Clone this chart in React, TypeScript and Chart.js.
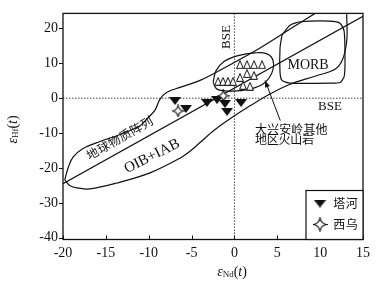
import React, { useEffect, useRef } from 'react';
import { Chart, registerables } from 'chart.js';

Chart.register(...registerables);

// ---------- data ----------
const xTicks = [-20, -15, -10, -5, 0, 5, 10, 15];
const yTicks = [-40, -30, -20, -10, 0, 10, 20];

// 塔河 (filled down triangles)
const taheNd = [-6.93, -5.65, -3.2, -2.03, -1.1, -0.86, 0.77];
const taheHf = [-0.82, -3.08, -1.38, -0.54, -1.67, -3.93, -1.38];

// 西乌 (four-point stars)
const xiwuNd = [-6.58, -1.3];
const xiwuHf = [-3.67, 0.68];

// 大兴安岭其他地区火山岩 (open triangles)
const dxalNd = [0.65, 1.47, 2.29, 3.22, -1.91, -1.33, -0.75, -0.16, 0.65, 1.47, 2.29, 1.0, 1.82];
const dxalHf = [9.63, 9.63, 9.63, 9.63, 4.83, 4.83, 4.83, 4.83, 5.96, 7.09, 6.53, 3.7, 3.42];

// 地球物质阵列 (terrestrial array line)
const arrayNd = [-20, 15];
const arrayHf = [-24.5, 23.5];

// OIB+IAB field outline
const oibNd = [-19.8, -19.41, -18.83, -17.66, -15.68, -13.35, -11.01, -10.2, -9.26, -8.68, -7.87, -6.35, -4.01, -0.51, 2.99, 6.49, 9.4, 11.15,
  12.9, 13.1, 13.1, 12.6, 11.74, 9.4, 6.49, 4.15, 1.82, -0.51, -2.26, -4.01, -5.18, -6.35, -9.85, -13.7, -16.85, -18.36, -19.18, -19.8];
const oibHf = [-23.5, -20.0, -16.9, -14.4, -12.4, -10.4, -7.9, -5.9, -3.4, -0.25, 1.7, 3.1, 5.1, 9.6, 14.4, 19.8, 24.3, 26.9,
  27.1, 22.9, 16.4, 11.0, 8.3, 6.3, 4.0, 1.2, -2.2, -5.9, -9.0, -12.7, -15.2, -17.2, -21.4, -24.3, -26.0, -25.7, -25.1, -23.5];

// MORB field outline
const morbNd = [5.55, 6.48, 7.65, 11.15, 12.32, 12.8, 12.9, 12.8, 12.32, 11.15, 6.48, 5.55, 5.32, 5.32, 5.55];
const morbHf = [18.1, 20.9, 21.9, 22.1, 21.5, 19.2, 10.2, 6.2, 4.5, 4.3, 4.3, 5.1, 7.4, 14.4, 18.1];

// 大兴安岭其他地区火山岩 field outline
const dxalFieldNd = [-2.49, -2.14, -1.21, 0.42, 2.4, 3.8, 4.5, 4.39, 3.45, 1.82, -0.28, -2.03, -2.49];
const dxalFieldHf = [4.5, 7.9, 10.5, 12.2, 13.0, 12.7, 10.8, 7.4, 4.3, 2.6, 2.0, 2.6, 4.5];

// arrow (tail -> head)
const arrowNd = [5.35, 3.57];
const arrowHf = [-6.4, 5.1];

// BSE reference values
const bseNd = 0;
const bseHf = 0;

const legendLabels = ['塔河', '西乌'];

// ---------- helpers ----------
const SERIF = '"Liberation Serif", "DejaVu Serif", serif';
const CJK = '"Noto Sans CJK SC", "Noto Sans CJK TC", sans-serif';
const INK = '#111';

const pts = (xs: number[], ys: number[]) => xs.map((x, i) => ({ x, y: ys[i] }));

function makeStar(size: number) {
  const c = document.createElement('canvas');
  c.width = size;
  c.height = size;
  const g = c.getContext('2d')!;
  const cx = size / 2, cy = size / 2, R = size / 2 - 1, k = R * 0.16;
  const tips = [[cx, cy - R], [cx + R, cy], [cx, cy + R], [cx - R, cy]];
  const ctrl = [[cx + k, cy - k], [cx + k, cy + k], [cx - k, cy + k], [cx - k, cy - k]];
  g.beginPath();
  g.moveTo(tips[0][0], tips[0][1]);
  for (let i = 0; i < 4; i++) {
    const n = tips[(i + 1) % 4];
    g.quadraticCurveTo(ctrl[i][0], ctrl[i][1], n[0], n[1]);
  }
  g.closePath();
  g.fillStyle = '#fff';
  g.fill();
  g.lineWidth = 1.2;
  g.strokeStyle = INK;
  g.stroke();
  return c;
}

function makeDownTri(w: number, h: number) {
  const c = document.createElement('canvas');
  c.width = w;
  c.height = h;
  const g = c.getContext('2d')!;
  g.beginPath();
  g.moveTo(0, 0);
  g.lineTo(w, 0);
  g.lineTo(w / 2, h);
  g.closePath();
  g.fillStyle = INK;
  g.fill();
  return c;
}

function makeUpTri(w: number, h: number) {
  const c = document.createElement('canvas');
  c.width = w;
  c.height = h;
  const g = c.getContext('2d')!;
  g.beginPath();
  g.moveTo(w / 2, 0.6);
  g.lineTo(w - 0.6, h - 0.6);
  g.lineTo(0.6, h - 0.6);
  g.closePath();
  g.fillStyle = '#fff';
  g.fill();
  g.lineWidth = 1;
  g.strokeStyle = INK;
  g.stroke();
  return c;
}

type Part = { t: string; font: string; dy?: number };
function drawMixed(ctx: CanvasRenderingContext2D, parts: Part[], cx: number, cy: number, rot: number) {
  ctx.save();
  ctx.translate(cx, cy);
  ctx.rotate(rot);
  ctx.textBaseline = 'middle';
  ctx.textAlign = 'left';
  const ws = parts.map((p) => {
    ctx.font = p.font;
    return ctx.measureText(p.t).width;
  });
  let x = -ws.reduce((a, b) => a + b, 0) / 2;
  parts.forEach((p, i) => {
    ctx.font = p.font;
    ctx.fillText(p.t, x, p.dy || 0);
    x += ws[i];
  });
  ctx.restore();
}

function drawSpaced(ctx: CanvasRenderingContext2D, text: string, x: number, y: number, pitch: number, rot: number, centered: boolean) {
  ctx.save();
  ctx.translate(x, y);
  ctx.rotate(rot);
  ctx.textBaseline = 'middle';
  ctx.textAlign = 'center';
  const chars = Array.from(text);
  const start = centered ? -((chars.length - 1) * pitch) / 2 : pitch / 2;
  chars.forEach((ch, i) => ctx.fillText(ch, start + i * pitch, 0));
  ctx.restore();
}

export default function App() {
  const ref = useRef<HTMLCanvasElement | null>(null);

  useEffect(() => {
    const canvas = ref.current;
    if (!canvas) return;
    const star = makeStar(13);
    const starBig = makeStar(15);
    const down = makeDownTri(12, 8);
    const downBig = makeDownTri(13, 8);
    const up = makeUpTri(8, 9);

    const deco = {
      id: 'deco',
      beforeDatasetsDraw(chart: any) {
        const { ctx, chartArea: a, scales } = chart;
        const x0 = scales.x.getPixelForValue(bseNd);
        const y0 = scales.y.getPixelForValue(bseHf);
        ctx.save();
        ctx.strokeStyle = '#444';
        ctx.lineWidth = 1;
        ctx.setLineDash([1.5, 1.5]);
        ctx.beginPath();
        ctx.moveTo(x0, a.top);
        ctx.lineTo(x0, a.bottom);
        ctx.moveTo(a.left, y0);
        ctx.lineTo(a.right, y0);
        ctx.stroke();
        ctx.restore();
      },
      afterDatasetsDraw(chart: any) {
        const { ctx, scales } = chart;
        const X = (v: number) => scales.x.getPixelForValue(v);
        const Y = (v: number) => scales.y.getPixelForValue(v);
        ctx.save();
        ctx.fillStyle = INK;
        ctx.strokeStyle = INK;

        // arrowhead
        const tx = X(arrowNd[0]), ty = Y(arrowHf[0]);
        const hx = X(arrowNd[1]), hy = Y(arrowHf[1]);
        const ang = Math.atan2(hy - ty, hx - tx);
        const L = 7, W = 2.6;
        ctx.beginPath();
        ctx.moveTo(hx, hy);
        ctx.lineTo(hx - L * Math.cos(ang) + W * Math.sin(ang), hy - L * Math.sin(ang) - W * Math.cos(ang));
        ctx.lineTo(hx - L * Math.cos(ang) - W * Math.sin(ang), hy - L * Math.sin(ang) + W * Math.cos(ang));
        ctx.closePath();
        ctx.fill();

        // labels
        ctx.font = `13px ${SERIF}`;
        ctx.textAlign = 'center';
        ctx.textBaseline = 'middle';
        ctx.save();
        ctx.translate(X(-0.86), Y(17.54));
        ctx.rotate(-Math.PI / 2);
        ctx.fillText('BSE', 0, 0);
        ctx.restore();
        ctx.fillText('BSE', X(11.15), Y(-2.51));
        ctx.font = `14px ${SERIF}`;
        ctx.fillText('MORB', X(8.59), Y(9.35));

        ctx.save();
        ctx.font = `15px ${SERIF}`;
        ctx.translate(X(-9.61), Y(-16.64));
        ctx.rotate((-26.6 * Math.PI) / 180);
        ctx.fillText('OIB+IAB', 0, 0);
        ctx.restore();

        ctx.font = `12px ${CJK}`;
        drawSpaced(ctx, '地球物质阵列', X(-13.4), Y(-11.4), 12.4, (-29.5 * Math.PI) / 180, true);
        drawSpaced(ctx, '大兴安岭其他', X(2.4), Y(-8.87), 12.1, 0, false);
        drawSpaced(ctx, '地区火山岩', X(2.4), Y(-11.84), 11.8, 0, false);
        ctx.restore();
      },
      afterDraw(chart: any) {
        const { ctx, chartArea: a, scales } = chart;
        ctx.save();
        ctx.strokeStyle = INK;
        ctx.lineWidth = 1.3;
        ctx.strokeRect(a.left, a.top, a.right - a.left, a.bottom - a.top);

        // ticks: x inside, y outside
        ctx.lineWidth = 1;
        ctx.beginPath();
        scales.x.ticks.forEach((t: any) => {
          const px = Math.round(scales.x.getPixelForValue(t.value)) + 0.5;
          ctx.moveTo(px, a.bottom);
          ctx.lineTo(px, a.bottom - 4);
        });
        scales.y.ticks.forEach((t: any) => {
          const py = Math.round(scales.y.getPixelForValue(t.value)) + 0.5;
          ctx.moveTo(a.left, py);
          ctx.lineTo(a.left - 4, py);
        });
        ctx.stroke();

        // axis titles
        ctx.fillStyle = INK;
        drawMixed(ctx, [
          { t: 'ε', font: `italic 14px ${SERIF}` },
          { t: 'Hf', font: `9px ${SERIF}`, dy: 3 },
          { t: '(', font: `14px ${SERIF}` },
          { t: 't', font: `italic 14px ${SERIF}` },
          { t: ')', font: `14px ${SERIF}` },
        ], 13, (a.top + a.bottom) / 2 + 3, -Math.PI / 2);
        drawMixed(ctx, [
          { t: 'ε', font: `italic 14px ${SERIF}` },
          { t: 'Nd', font: `9px ${SERIF}`, dy: 3 },
          { t: '(', font: `14px ${SERIF}` },
          { t: 't', font: `italic 14px ${SERIF}` },
          { t: ')', font: `14px ${SERIF}` },
        ], 232, 272, 0);

        // legend
        const lw = 57, lh = 49;
        const lx = a.right - lw, ly = a.bottom - lh;
        ctx.fillStyle = '#fff';
        ctx.fillRect(lx, ly, lw, lh);
        ctx.lineWidth = 1.2;
        ctx.strokeRect(lx, ly, lw, lh);
        ctx.drawImage(downBig, lx + 14 - downBig.width / 2, ly + 13 - downBig.height / 2);
        ctx.drawImage(starBig, lx + 14 - starBig.width / 2, ly + 34 - starBig.height / 2);
        ctx.fillStyle = INK;
        ctx.font = `12px ${CJK}`;
        drawSpaced(ctx, legendLabels[0], lx + 27, ly + 13, 12.5, 0, false);
        drawSpaced(ctx, legendLabels[1], lx + 27, ly + 34, 12.5, 0, false);
        ctx.restore();
      },
    };

    const lineDs = (label: string, data: any[], extra: any = {}) => ({
      label,
      data,
      showLine: true,
      pointRadius: 0,
      borderColor: INK,
      borderWidth: 1.2,
      backgroundColor: 'transparent',
      fill: false,
      order: 10,
      ...extra,
    });

    const chart = new Chart(canvas, {
      type: 'scatter',
      data: {
        datasets: [
          { label: legendLabels[1], data: pts(xiwuNd, xiwuHf), pointStyle: star, pointRadius: 6, order: 0 } as any,
          { label: legendLabels[0], data: pts(taheNd, taheHf), pointStyle: down, pointRadius: 5, order: 1 } as any,
          { label: '大兴安岭其他地区火山岩', data: pts(dxalNd, dxalHf), pointStyle: up, pointRadius: 4, order: 2 } as any,
          lineDs('地球物质阵列', pts(arrayNd, arrayHf)),
          lineDs('OIB+IAB', pts(oibNd, oibHf), { tension: 0.35 }),
          lineDs('MORB', pts(morbNd, morbHf), { tension: 0.2 }),
          lineDs('field', pts(dxalFieldNd, dxalFieldHf), { tension: 0.4 }),
          lineDs('arrow', pts(arrowNd, arrowHf), { borderWidth: 1 }),
        ],
      },
      options: {
        animation: false,
        responsive: false,
        devicePixelRatio: 1,
        events: [],
        layout: { padding: { left: 8, top: 10, right: 15, bottom: 0 } },
        plugins: { legend: { display: false }, tooltip: { enabled: false } },
        scales: {
          x: {
            type: 'linear',
            min: -20,
            max: 15,
            afterBuildTicks: (s: any) => {
              s.ticks = xTicks.map((v) => ({ value: v }));
            },
            afterFit: (s: any) => {
              s.height = 45.5;
            },
            grid: { display: false, drawTicks: false },
            border: { display: false },
            ticks: { padding: 5, color: INK, font: { family: SERIF, size: 14 }, maxRotation: 0 },
          },
          y: {
            type: 'linear',
            min: -40.5,
            max: 24.3,
            afterBuildTicks: (s: any) => {
              s.ticks = yTicks.map((v) => ({ value: v }));
            },
            afterFit: (s: any) => {
              s.width = 55;
            },
            grid: { display: false, drawTicks: false },
            border: { display: false },
            ticks: { padding: 5, color: INK, font: { family: SERIF, size: 14 } },
          },
        },
      } as any,
      plugins: [deco],
    });
    return () => chart.destroy();
  }, []);

  return (
    <div style={{ position: 'fixed', left: 0, top: 0, width: 378, height: 285, background: '#fff' }}>
      <canvas ref={ref} width={378} height={285} style={{ width: 378, height: 285, display: 'block' }} />
    </div>
  );
}
